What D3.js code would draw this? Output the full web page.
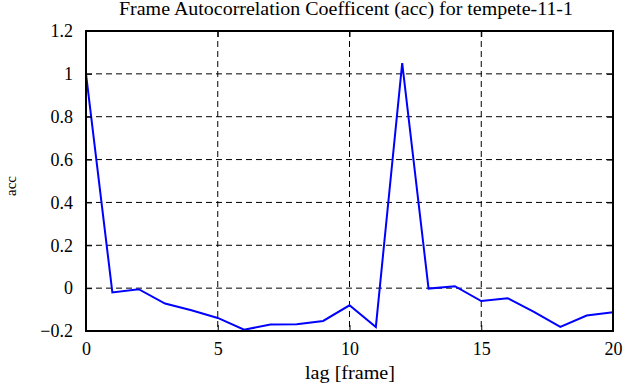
<!DOCTYPE html>
<meta charset="utf-8">
<style>
  body { margin: 0; background: #fff; }
  svg text { font-family: "Liberation Serif", "DejaVu Serif", serif; fill: #000; }
  .grid line { stroke: #000; stroke-width: 1; stroke-dasharray: 6,4; }
</style>
<body>
<svg width="635" height="387"></svg>
<script src="https://cdn.jsdelivr.net/npm/d3@7"></script>
<script>

// lag values and autocorrelation
var lags = [0, 1, 2, 3, 4, 5, 6, 7, 8, 9, 10, 11, 12, 13, 14, 15, 16, 17, 18, 19, 20];
var acc  = [1.0, -0.02, -0.005, -0.072, -0.103, -0.139, -0.194, -0.17, -0.169, -0.153,
            -0.08, -0.181, 1.05, -0.002, 0.009, -0.06, -0.047, -0.111, -0.181, -0.128, -0.113];
var xTicks = [0, 5, 10, 15, 20];
var yTicks = [-0.2, 0, 0.2, 0.4, 0.6, 0.8, 1, 1.2];

var svg = d3.select("svg"),
    margin = {top: 31, right: 22, bottom: 56, left: 86},
    width  = +svg.attr("width") - margin.left - margin.right,
    height = +svg.attr("height") - margin.top - margin.bottom;

var x = d3.scaleLinear().domain([0, 20]).range([0, width]),
    y = d3.scaleLinear().domain([-0.2, 1.2]).range([height, 0]);

var g = svg.append("g")
    .attr("transform", "translate(" + margin.left + "," + margin.top + ")");

// dashed grid (interior only)
var grid = g.append("g").attr("class", "grid");
grid.selectAll(".gx").data(xTicks.slice(1, -1)).enter().append("line")
    .attr("x1", function(d) { return x(d); }).attr("x2", function(d) { return x(d); })
    .attr("y1", 0).attr("y2", height);
grid.selectAll(".gy").data(yTicks.slice(1, -1)).enter().append("line")
    .attr("y1", function(d) { return y(d); }).attr("y2", function(d) { return y(d); })
    .attr("x1", 0).attr("x2", width);

// the series
var line = d3.line()
    .x(function(d, i) { return x(lags[i]); })
    .y(function(d) { return y(d); });

g.append("path")
    .datum(acc)
    .attr("fill", "none")
    .attr("stroke", "#0000ff")
    .attr("stroke-width", 2)
    .attr("d", line);

// axes with inward ticks on all four sides
function styleAxis(sel) {
  sel.attr("font-family", null).attr("font-size", null);
  sel.select(".domain").remove();
  sel.selectAll(".tick line").attr("stroke", "#000").attr("stroke-width", 1);
  sel.selectAll("text")
      .style("font-family", "'Liberation Serif', 'DejaVu Serif', serif")
      .style("font-size", "18px")
      .attr("fill", "#000");
}

g.append("g")
    .attr("transform", "translate(0," + height + ")")
    .call(d3.axisBottom(x).tickValues(xTicks).tickSize(-6).tickPadding(11).tickFormat(d3.format("d")))
    .call(styleAxis);

g.append("g")
    .call(d3.axisTop(x).tickValues(xTicks).tickSize(-6).tickFormat(""))
    .call(styleAxis);

g.append("g")
    .call(d3.axisLeft(y).tickValues(yTicks).tickSize(-6).tickPadding(13)
      .tickFormat(function(d) { return d3.format("")(+d.toFixed(1)); }))
    .call(styleAxis);

g.append("g")
    .attr("transform", "translate(" + width + ",0)")
    .call(d3.axisRight(y).tickValues(yTicks).tickSize(-6).tickFormat(""))
    .call(styleAxis);

// frame
g.append("rect")
    .attr("width", width)
    .attr("height", height)
    .attr("fill", "none")
    .attr("stroke", "#000")
    .attr("stroke-width", 2);

// labels
svg.append("text")
    .attr("x", 346)
    .attr("y", 15)
    .attr("text-anchor", "middle")
    .attr("textLength", 454)
    .attr("lengthAdjust", "spacingAndGlyphs")
    .style("font-size", "18px")
    .text("Frame Autocorrelation Coefficent (acc) for tempete-11-1");

svg.append("text")
    .attr("x", 350)
    .attr("y", 379)
    .attr("text-anchor", "middle")
    .attr("textLength", 90)
    .attr("lengthAdjust", "spacingAndGlyphs")
    .style("font-size", "18px")
    .text("lag [frame]");

svg.append("text")
    .attr("transform", "translate(16,186) rotate(-90)")
    .attr("text-anchor", "middle")
    .style("font-size", "15px")
    .text("acc");

</script>
</body>
